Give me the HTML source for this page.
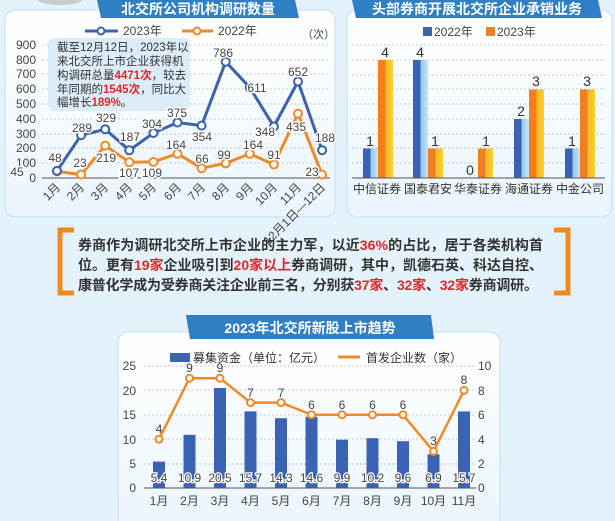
<!DOCTYPE html>
<html><head><meta charset="utf-8"><style>
html,body{margin:0;padding:0;background:#e4f2fb;}
svg{display:block;font-family:"Liberation Sans","Noto Sans CJK SC",sans-serif;}
</style></head><body>
<svg width="615" height="521" viewBox="0 0 615 521" xmlns="http://www.w3.org/2000/svg">
<defs>
<linearGradient id="bb" x1="0" x2="1" y1="0" y2="0"><stop offset="0" stop-color="#3b63b3"/><stop offset="0.5" stop-color="#3b63b3"/><stop offset="0.5" stop-color="#8ec8ef"/><stop offset="1" stop-color="#c4e6fa"/></linearGradient>
<linearGradient id="ob" x1="0" x2="1" y1="0" y2="0"><stop offset="0" stop-color="#ef7f1f"/><stop offset="0.5" stop-color="#ef7f1f"/><stop offset="0.5" stop-color="#f8b52a"/><stop offset="1" stop-color="#fbd12e"/></linearGradient>
<linearGradient id="pg" x1="0" x2="0" y1="0" y2="1"><stop offset="0" stop-color="#ffffff"/><stop offset="1" stop-color="#eaf5fc"/></linearGradient>
</defs>
<rect width="615" height="521" fill="#e4f2fb"/>
<ellipse cx="60" cy="0" rx="22" ry="5" fill="#c9cdd2"/>
<rect x="5" y="10" width="330" height="207" rx="10" fill="url(#pg)" stroke="#bfe0f5"/>
<rect x="347" y="10" width="265" height="207" rx="10" fill="url(#pg)" stroke="#bfe0f5"/>
<rect x="118" y="332" width="382" height="200" rx="10" fill="url(#pg)" stroke="#bfe0f5"/>
<polygon points="97,0 295,0 299,18 101,18" fill="#2f7fc4"/>
<text x="198" y="14" font-size="14" font-weight="bold" fill="#fff" text-anchor="middle">北交所公司机构调研数量</text>
<polygon points="352,0 598,0 602,18 356,18" fill="#2f7fc4"/>
<text x="477" y="14" font-size="14" font-weight="bold" fill="#fff" text-anchor="middle">头部券商开展北交所企业承销业务</text>
<polygon points="186,315 431,315 434,339 190,339" fill="#2f7fc4"/>
<text x="310" y="333" font-size="14" font-weight="bold" fill="#fff" text-anchor="middle">2023年北交所新股上市趋势</text>

<g stroke="#ccc" stroke-dasharray="2,2">
<line x1="42" x2="330" y1="45" y2="45"/><line x1="42" x2="330" y1="60" y2="60"/><line x1="42" x2="330" y1="74" y2="74"/><line x1="42" x2="330" y1="89" y2="89"/><line x1="42" x2="330" y1="104" y2="104"/><line x1="42" x2="330" y1="119" y2="119"/><line x1="42" x2="330" y1="134" y2="134"/><line x1="42" x2="330" y1="148" y2="148"/><line x1="42" x2="330" y1="163" y2="163"/>
</g>
<line x1="42" x2="330" y1="178" y2="178" stroke="#555"/>
<g font-size="12" fill="#444" text-anchor="end">
<text x="36" y="49">900</text><text x="36" y="64">800</text><text x="36" y="78">700</text><text x="36" y="93">600</text><text x="36" y="108">500</text><text x="36" y="123">400</text><text x="36" y="138">300</text><text x="36" y="152">200</text><text x="36" y="167">100</text><text x="36" y="182">0</text>
</g>
<rect x="48" y="38" width="142" height="73" rx="7" fill="#dcecf8"/>
<g font-size="11.5" fill="#333">
<text x="57" y="51">截至12月12日，2023年以</text>
<text x="57" y="65">来北交所上市企业获得机</text>
<text x="57" y="79">构调研总量<tspan fill="#e0282a" font-weight="bold">4471次</tspan>，较去</text>
<text x="57" y="93">年同期的<tspan fill="#e0282a" font-weight="bold">1545次</tspan>，同比大</text>
<text x="57" y="106">幅增长<tspan fill="#e0282a" font-weight="bold">189%</tspan>。</text>
</g>
<line x1="85" x2="118" y1="31" y2="31" stroke="#3a62ad" stroke-width="3"/><circle cx="101" cy="31" r="3.5" fill="#fff" stroke="#3a62ad" stroke-width="2"/>
<text x="123" y="35" font-size="12" fill="#444">2023年</text>
<line x1="182" x2="213" y1="31" y2="31" stroke="#ee8a2a" stroke-width="3"/><circle cx="197" cy="31" r="3.5" fill="#fff" stroke="#ee8a2a" stroke-width="2"/>
<text x="218" y="35" font-size="12" fill="#444">2022年</text>
<text x="302" y="38" font-size="11" fill="#444">（次）</text>
<polyline fill="none" stroke="#ee8a2a" stroke-width="3" points="57,171.3 81.1,174.6 105.2,145.6 129.3,162.2 153.4,161.9 177.5,153.7 201.6,168.2 225.7,163.3 249.8,153.7 273.9,164.5 298,113.6 322.1,174.6"/>
<polyline fill="none" stroke="#3a62ad" stroke-width="3" points="57,170.9 81.1,135.2 105.2,129.3 129.3,150.3 153.4,133 177.5,122.5 201.6,125.6 225.7,61.7 249.8,87.6 273.9,126.5 298,81.5 322.1,150.2"/>
<g fill="#fff" stroke="#ee8a2a" stroke-width="2">
<circle cx="57" cy="171.3" r="4"/><circle cx="81.1" cy="174.6" r="4"/><circle cx="105.2" cy="145.6" r="4"/><circle cx="129.3" cy="162.2" r="4"/><circle cx="153.4" cy="161.9" r="4"/><circle cx="177.5" cy="153.7" r="4"/><circle cx="201.6" cy="168.2" r="4"/><circle cx="225.7" cy="163.3" r="4"/><circle cx="249.8" cy="153.7" r="4"/><circle cx="273.9" cy="164.5" r="4"/><circle cx="298" cy="113.6" r="4"/><circle cx="322.1" cy="174.6" r="4"/>
</g>
<g fill="#fff" stroke="#3a62ad" stroke-width="2">
<circle cx="57" cy="170.9" r="4"/><circle cx="81.1" cy="135.2" r="4"/><circle cx="105.2" cy="129.3" r="4"/><circle cx="129.3" cy="150.3" r="4"/><circle cx="153.4" cy="133" r="4"/><circle cx="177.5" cy="122.5" r="4"/><circle cx="201.6" cy="125.6" r="4"/><circle cx="225.7" cy="61.7" r="4"/><circle cx="249.8" cy="87.6" r="4"/><circle cx="273.9" cy="126.5" r="4"/><circle cx="298" cy="81.5" r="4"/><circle cx="322.1" cy="150.2" r="4"/>
</g>
<g font-size="12" fill="#444" text-anchor="middle" stroke="#fff" stroke-width="3" paint-order="stroke">
<text x="55" y="162">48</text><text x="82" y="132">289</text><text x="106" y="122">329</text><text x="130" y="141">187</text><text x="152" y="128">304</text><text x="177" y="117">375</text><text x="202" y="141">354</text><text x="223" y="57">786</text><text x="257" y="92">611</text><text x="265" y="136">348</text><text x="298" y="76">652</text><text x="325" y="142">188</text>
<text x="17" y="176">45</text><text x="80" y="167">23</text><text x="106" y="162">219</text><text x="129" y="177">107</text><text x="152" y="177">109</text><text x="176" y="149">164</text><text x="202" y="163">66</text><text x="224" y="159">99</text><text x="253" y="149">164</text><text x="274" y="159">91</text><text x="296" y="131">435</text><text x="312" y="176">23</text>
</g>
<g font-size="12" fill="#444" text-anchor="end">
<text transform="translate(61,188) rotate(-45)">1月</text><text transform="translate(85,188) rotate(-45)">2月</text><text transform="translate(109,188) rotate(-45)">3月</text><text transform="translate(133,188) rotate(-45)">4月</text><text transform="translate(157,188) rotate(-45)">5月</text><text transform="translate(182,188) rotate(-45)">6月</text><text transform="translate(206,188) rotate(-45)">7月</text><text transform="translate(230,188) rotate(-45)">8月</text><text transform="translate(254,188) rotate(-45)">9月</text><text transform="translate(278,188) rotate(-45)">10月</text><text transform="translate(302,188) rotate(-45)">11月</text><text transform="translate(326,188) rotate(-45)">12月1日—12日</text>
</g>

<g stroke="#ccc" stroke-dasharray="2,2">
<line x1="352" x2="605" y1="45" y2="45"/><line x1="352" x2="605" y1="60" y2="60"/><line x1="352" x2="605" y1="75" y2="75"/><line x1="352" x2="605" y1="89" y2="89"/><line x1="352" x2="605" y1="104" y2="104"/><line x1="352" x2="605" y1="119" y2="119"/><line x1="352" x2="605" y1="134" y2="134"/><line x1="352" x2="605" y1="148" y2="148"/><line x1="352" x2="605" y1="163" y2="163"/>
</g>
<rect x="423" y="27" width="9" height="9" fill="#3b63b3"/><text x="434" y="36" font-size="12" fill="#444">2022年</text>
<rect x="486" y="27" width="9" height="9" fill="#ef7f1f"/><text x="497" y="36" font-size="12" fill="#444">2023年</text>
<rect x="363" y="148.5" width="15" height="29.5" fill="url(#bb)"/><rect x="378" y="60" width="15" height="118" fill="url(#ob)"/>
<rect x="413" y="60" width="15" height="118" fill="url(#bb)"/><rect x="428" y="148.5" width="15" height="29.5" fill="url(#ob)"/>
<rect x="478" y="148.5" width="15" height="29.5" fill="url(#ob)"/>
<rect x="514" y="119" width="15" height="59" fill="url(#bb)"/><rect x="529" y="89.5" width="15" height="88.5" fill="url(#ob)"/>
<rect x="565" y="148.5" width="15" height="29.5" fill="url(#bb)"/><rect x="580" y="89.5" width="15" height="88.5" fill="url(#ob)"/>
<line x1="352" x2="605" y1="178" y2="178" stroke="#555"/>
<g font-size="14" fill="#333" text-anchor="middle">
<text x="370" y="146">1</text><text x="385" y="57">4</text><text x="420" y="57">4</text><text x="435" y="146">1</text><text x="470" y="175">0</text><text x="486" y="146">1</text><text x="521" y="116">2</text><text x="536" y="86">3</text><text x="572" y="146">1</text><text x="587" y="86">3</text>
</g>
<g font-size="12" fill="#333" text-anchor="middle">
<text x="377" y="193">中信证券</text><text x="428" y="193">国泰君安</text><text x="478" y="193">华泰证券</text><text x="529" y="193">海通证券</text><text x="580" y="193">中金公司</text>
</g>

<path d="M74,230 H60 V293 H74" fill="none" stroke="#f08a1c" stroke-width="5"/>
<path d="M554,230 H568 V293 H554" fill="none" stroke="#f08a1c" stroke-width="5"/>
<g font-size="14" font-weight="bold" fill="#333">
<text x="78" y="250" textLength="465" lengthAdjust="spacing">券商作为调研北交所上市企业的主力军，以近<tspan fill="#e0282a">36%</tspan>的占比，居于各类机构首</text>
<text x="78" y="270" textLength="465" lengthAdjust="spacing">位。更有<tspan fill="#e0282a">19家</tspan>企业吸引到<tspan fill="#e0282a">20家以上</tspan>券商调研，其中，凯德石英、科达自控、</text>
<text x="78" y="290" textLength="460" lengthAdjust="spacing">康普化学成为受券商关注企业前三名，分别获<tspan fill="#e0282a">37家</tspan>、<tspan fill="#e0282a">32家</tspan>、<tspan fill="#e0282a">32家</tspan>券商调研。</text>
</g>

<rect x="170" y="353" width="20" height="9" fill="#3b63b3"/><text x="193" y="362" font-size="12" fill="#333">募集资金（单位：亿元）</text>
<line x1="338" x2="360" y1="357" y2="357" stroke="#ee8a2a" stroke-width="3"/><text x="366" y="362" font-size="12" fill="#333">首发企业数（家）</text>
<g stroke="#ccc" stroke-dasharray="2,2">
<line x1="144" x2="476" y1="366" y2="366"/><line x1="144" x2="476" y1="390" y2="390"/><line x1="144" x2="476" y1="415" y2="415"/><line x1="144" x2="476" y1="439" y2="439"/><line x1="144" x2="476" y1="464" y2="464"/>
</g>
<g font-size="12" fill="#444" text-anchor="end">
<text x="136" y="370">25</text><text x="136" y="395">20</text><text x="136" y="419">15</text><text x="136" y="444">10</text><text x="136" y="468">5</text><text x="136" y="492">0</text>
</g>
<g font-size="12" fill="#444">
<text x="478" y="370">10</text><text x="478" y="395">8</text><text x="478" y="419">6</text><text x="478" y="444">4</text><text x="478" y="468">2</text><text x="478" y="492">0</text>
</g>
<g fill="#3b63b3">
<rect x="153" y="461.6" width="12" height="26.4"/><rect x="183.5" y="434.8" width="12" height="53.2"/><rect x="214" y="388" width="12" height="100"/><rect x="244.5" y="411.4" width="12" height="76.6"/><rect x="275" y="418.2" width="12" height="69.8"/><rect x="305.5" y="416.8" width="12" height="71.2"/><rect x="336" y="439.7" width="12" height="48.3"/><rect x="366.5" y="438.2" width="12" height="49.8"/><rect x="397" y="441.2" width="12" height="46.8"/><rect x="427.5" y="454.3" width="12" height="33.7"/><rect x="458" y="411.4" width="12" height="76.6"/>
</g>
<line x1="144" x2="476" y1="488" y2="488" stroke="#555"/>
<polyline fill="none" stroke="#ee8a2a" stroke-width="2.5" points="159,439.2 189.5,378.2 220,378.2 250.5,402.6 281,402.6 311.5,414.8 342,414.8 372.5,414.8 403,414.8 433.5,451.4 464,390.4"/>
<g fill="#fff" stroke="#ee8a2a" stroke-width="2">
<circle cx="159" cy="439.2" r="3.5"/><circle cx="189.5" cy="378.2" r="3.5"/><circle cx="220" cy="378.2" r="3.5"/><circle cx="250.5" cy="402.6" r="3.5"/><circle cx="281" cy="402.6" r="3.5"/><circle cx="311.5" cy="414.8" r="3.5"/><circle cx="342" cy="414.8" r="3.5"/><circle cx="372.5" cy="414.8" r="3.5"/><circle cx="403" cy="414.8" r="3.5"/><circle cx="433.5" cy="451.4" r="3.5"/><circle cx="464" cy="390.4" r="3.5"/>
</g>
<g font-size="12" fill="#444" text-anchor="middle">
<text x="159" y="433">4</text><text x="189.5" y="372">9</text><text x="220" y="372">9</text><text x="250.5" y="397">7</text><text x="281" y="397">7</text><text x="311.5" y="409">6</text><text x="342" y="409">6</text><text x="372.5" y="409">6</text><text x="403" y="409">6</text><text x="433.5" y="445">3</text><text x="464" y="384">8</text>
</g>
<g font-size="12" fill="#444" text-anchor="middle" stroke="#fff" stroke-width="2.5" paint-order="stroke">
<text x="159" y="482">5.4</text><text x="189.5" y="482">10.9</text><text x="220" y="482">20.5</text><text x="250.5" y="482">15.7</text><text x="281" y="482">14.3</text><text x="311.5" y="482">14.6</text><text x="342" y="482">9.9</text><text x="372.5" y="482">10.2</text><text x="403" y="482">9.6</text><text x="433.5" y="482">6.9</text><text x="464" y="482">15.7</text>
</g>
<g font-size="12" fill="#444" text-anchor="middle">
<text x="159" y="505">1月</text><text x="189.5" y="505">2月</text><text x="220" y="505">3月</text><text x="250.5" y="505">4月</text><text x="281" y="505">5月</text><text x="311.5" y="505">6月</text><text x="342" y="505">7月</text><text x="372.5" y="505">8月</text><text x="403" y="505">9月</text><text x="433.5" y="505">10月</text><text x="464" y="505">11月</text>
</g>
</svg>
</body></html>
